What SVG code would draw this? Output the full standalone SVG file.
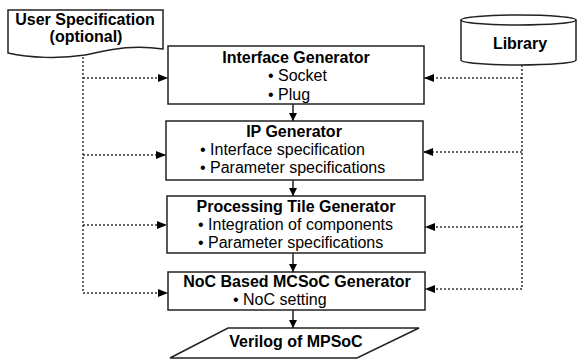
<svg xmlns="http://www.w3.org/2000/svg" width="577" height="359" viewBox="0 0 577 359">
<defs>
<style>
.box{fill:#fff;stroke:#222;stroke-width:1.5}
.t{font-family:"Liberation Sans",Arial,sans-serif;font-size:16px;fill:#000}
.b{font-weight:bold}
.m{text-anchor:middle}
.dot{fill:none;stroke:#333;stroke-width:1.5;stroke-dasharray:2,2}
.sol{fill:none;stroke:#222;stroke-width:1.5}
</style>
<marker id="ah" viewBox="0 0 10 8" refX="10" refY="4" markerWidth="10" markerHeight="8" markerUnits="userSpaceOnUse" orient="auto">
<path d="M0,0 L10,4 L0,8 Z" fill="#000"/>
</marker>
<marker id="as" viewBox="0 0 8 8" refX="8" refY="4" markerWidth="8" markerHeight="8" markerUnits="userSpaceOnUse" orient="auto">
<path d="M0,0 L8,4 L0,8 Z" fill="#000"/>
</marker>
</defs>
<rect width="577" height="359" fill="#fff"/>
<g id="userspec">
<path class="box" d="M8,10 H163 V49 C130,44 110,50 85,55 C60,59 30,58 8,53 Z"/>
<text class="t b m" x="85" y="25">User Specification</text>
<text class="t b m" x="86" y="42">(optional)</text>
</g>
<g id="library">
<path class="box" d="M461,20 A57.5,5 0 0 1 576,20 V60 A57.5,5 0 0 1 461,60 Z"/>
<path class="sol" d="M461,20 A57.5,5 0 0 0 576,20"/>
<text class="t b m" x="520" y="49">Library</text>
</g>
<g id="interface">
<rect class="box" x="168" y="46" width="256" height="58"/>
<text class="t b m" x="296" y="63">Interface Generator</text>
<text class="t" x="268" y="81">• Socket</text>
<text class="t" x="268" y="100">• Plug</text>
</g>
<g id="ip">
<rect class="box" x="166" y="121" width="257" height="59"/>
<text class="t b m" x="294" y="137">IP Generator</text>
<text class="t" x="200" y="155">• Interface specification</text>
<text class="t" x="200" y="173">• Parameter specifications</text>
</g>
<g id="tile">
<rect class="box" x="167" y="196" width="258" height="57"/>
<text class="t b m" x="296" y="212">Processing Tile Generator</text>
<text class="t" x="198" y="230">• Integration of components</text>
<text class="t" x="198" y="248">• Parameter specifications</text>
</g>
<g id="noc">
<rect class="box" x="168" y="272" width="257" height="38"/>
<text class="t b m" x="297" y="287">NoC Based MCSoC Generator</text>
<text class="t" x="233" y="305">• NoC setting</text>
</g>
<g id="verilog">
<path class="box" d="M228,328 H419 L357,358 H170 Z"/>
<text class="t b m" x="296" y="347">Verilog of MPSoC</text>
</g>
<g id="connectors">
<path class="dot" d="M83,57 V293"/>
<path class="dot" d="M83,78 H168" marker-end="url(#ah)"/>
<path class="dot" d="M83,155 H166" marker-end="url(#ah)"/>
<path class="dot" d="M83,225 H167" marker-end="url(#ah)"/>
<path class="dot" d="M83,293 H168" marker-end="url(#ah)"/>
<path class="dot" d="M522,65 V289"/>
<path class="dot" d="M522,78 H424" marker-end="url(#ah)"/>
<path class="dot" d="M522,152 H423" marker-end="url(#ah)"/>
<path class="dot" d="M522,227 H425" marker-end="url(#ah)"/>
<path class="dot" d="M522,289 H425" marker-end="url(#ah)"/>
<path class="sol" d="M293,104 V121" marker-end="url(#as)"/>
<path class="sol" d="M293,180 V196" marker-end="url(#as)"/>
<path class="sol" d="M293,253 V272" marker-end="url(#as)"/>
<path class="sol" d="M293,310 V328" marker-end="url(#as)"/>
</g>
</svg>
